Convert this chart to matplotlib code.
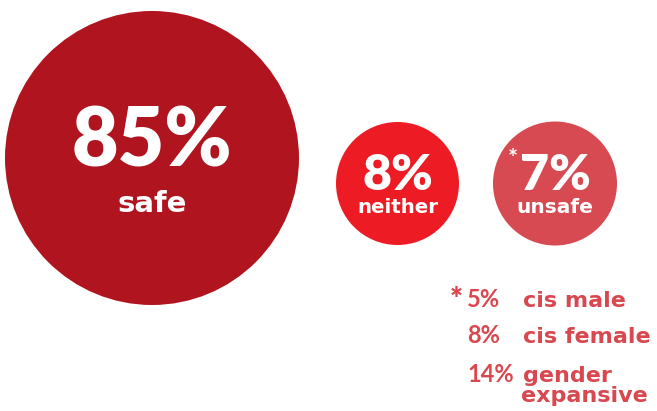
import matplotlib
matplotlib.use("Agg")
import matplotlib.pyplot as plt
from matplotlib.patches import Circle

# Survey result: how safe respondents feel
shares = [85, 8, 7]
labels = ["safe", "neither", "unsafe"]
colors = ["#B0141E", "#ED1C24", "#D84A52"]

# Breakdown of "unsafe" by gender group
unsafe_pct = [5, 8, 14]
unsafe_groups = ["cis male", "cis female", "gender\nexpansive"]
legend_color = "#D9474F"

NUM_FONT = ["Lato", "DejaVu Sans"]
WORD_FONT = ["DejaVu Sans"]

W, H = 657, 411
fig = plt.figure(figsize=(W / 100, H / 100), dpi=100)
ax = fig.add_axes([0, 0, 1, 1])
ax.set_xlim(0, W)
ax.set_ylim(H, 0)
ax.set_aspect("equal")
ax.axis("off")

# bubble geometry: (cx, cy, r, number size, number baseline, label size, label baseline)
bubbles = [
    (152, 158, 147, 58, 166, 21, 212),
    (397.5, 183.5, 61.5, 36, 190, 14.2, 213),
    (555, 183.5, 62, 36, 190, 14.5, 213),
]

for (cx, cy, r, nsz, nby, lsz, lby), v, lab, c in zip(bubbles, shares, labels, colors):
    ax.add_patch(Circle((cx, cy), r, facecolor=c, edgecolor="none"))
    ax.text(cx, nby, f"{v}%", color="white", fontsize=nsz, fontweight="heavy",
            ha="center", va="baseline", family=NUM_FONT)
    ax.text(cx, lby, lab, color="white", fontsize=lsz, fontweight="bold",
            ha="center", va="baseline", family=WORD_FONT)
    if lab == "unsafe":
        ax.text(cx - 42, 167, "*", color="white", fontsize=17,
                fontweight="bold", ha="center", va="baseline", family=NUM_FONT)

# footnote breakdown
rows_base = [307, 343, 382]
for i, (p, g, y) in enumerate(zip(unsafe_pct, unsafe_groups, rows_base)):
    ax.text(467, y, f"{p}%", color=legend_color, fontsize=17, fontweight="bold",
            ha="left", va="baseline", family=NUM_FONT)
    parts = g.split("\n")
    for k, line in enumerate(parts):
        ax.text(523 if k == 0 else 521, y + 20 * k, line, color=legend_color,
                fontsize=16, fontweight="bold", ha="left", va="baseline",
                family=WORD_FONT)
    if i == 0:
        ax.text(456, y + 2, "*", color=legend_color, fontsize=22,
                fontweight="heavy", ha="center", va="baseline", family=NUM_FONT)

fig.savefig("out.png", dpi=100)
